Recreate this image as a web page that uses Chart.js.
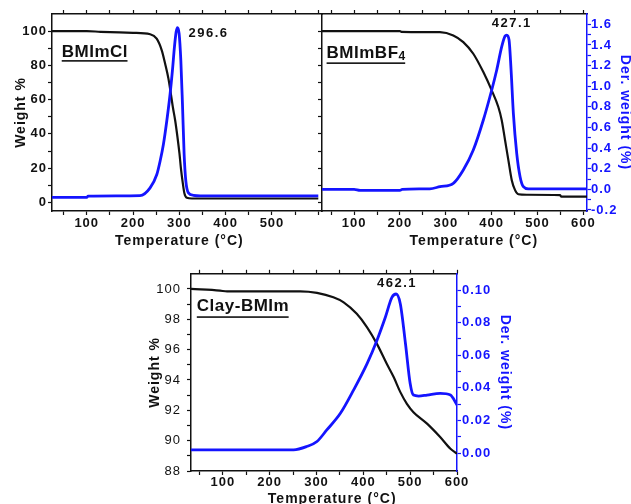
<!DOCTYPE html>
<html>
<head>
<meta charset="utf-8">
<script src="https://cdn.jsdelivr.net/npm/chart.js@4.4.1/dist/chart.umd.min.js"></script>
<style>
  html, body { margin: 0; padding: 0; background: #fff; }
  body { width: 631px; height: 504px; position: relative; overflow: hidden; }
  canvas { position: absolute; }
</style>
</head>
<body>
<canvas id="c1" width="324" height="250" style="left:0;top:0"></canvas>
<canvas id="c2" width="319" height="250" style="left:312px;top:0"></canvas>
<canvas id="c3" width="380" height="244" style="left:140px;top:260px"></canvas>
<script>
const BLACK = '#111';
const BLUE  = '#1414ff';
const FONT  = '"Liberation Sans", Arial, sans-serif';

// ── Ticks ──────────────────────────────────────────────────────────────────
const tempTicks      = [50, 100, 150, 200, 250, 300, 350, 400, 450, 500, 550, 600];
const clTempLabels   = [100, 200, 300, 400, 500];
const tempLabels     = [100, 200, 300, 400, 500, 600];
const weightTicks    = [0, 10, 20, 30, 40, 50, 60, 70, 80, 90, 100];
const weightLabels   = [0, 20, 40, 60, 80, 100];
const bf4DerTicks    = [-0.2, -0.1, 0, 0.1, 0.2, 0.3, 0.4, 0.5, 0.6, 0.7, 0.8, 0.9, 1, 1.1, 1.2, 1.3, 1.4, 1.5, 1.6];
const bf4DerLabels   = [-0.2, 0, 0.2, 0.4, 0.6, 0.8, 1, 1.2, 1.4, 1.6];
const clayWTicks     = [88, 89, 90, 91, 92, 93, 94, 95, 96, 97, 98, 99, 100];
const clayWLabels    = [88, 90, 92, 94, 96, 98, 100];
const clayDerTicks   = [0, 0.01, 0.02, 0.03, 0.04, 0.05, 0.06, 0.07, 0.08, 0.09, 0.1];
const clayDerLabels  = [0, 0.02, 0.04, 0.06, 0.08, 0.1];

// ── BMImCl ─────────────────────────────────────────────────────────────────
const clTemp    = [25, 100, 130, 200, 237, 251, 262, 269.3, 276.4, 281.6, 285.9, 290.9, 295.9, 300.2, 303.8, 307.5, 311, 316.2, 327, 600];
const clWeight  = [100, 100, 99.6, 99.0, 98.2, 95.6, 88.8, 81, 72.3, 63.5, 55.7, 48, 38.2, 28.6, 18.8, 11.1, 5.2, 2.7, 2.3, 2.3];
// derivative curve has no axis of its own in this panel: normalised to its peak
const clDerTemp = [25, 100, 103, 215, 236.8, 251.3, 258.5, 265.6, 272.9, 280, 285, 289.4, 293, 295.9, 299.5, 303.2, 306.7, 310.3, 314, 319.6, 330.4, 345, 600];
const clDer     = [-0.005, -0.005, 0.003, 0.006, 0.052, 0.131, 0.211, 0.31, 0.449, 0.607, 0.745, 0.885, 0.973, 1, 0.964, 0.805, 0.548, 0.251, 0.092, 0.022, 0.008, 0.005, 0.005];

// ── BMImBF4 ────────────────────────────────────────────────────────────────
const bf4Temp    = [30, 200, 203, 287.3, 316.4, 338.2, 360, 381.9, 400.2, 414.6, 422, 429.3, 436.5, 443.9, 451.1, 458.3, 476.6, 549, 552, 608];
const bf4Weight  = [100, 100, 99.6, 99.4, 97.5, 93.6, 86.8, 76.1, 65.4, 55.7, 48, 36.3, 24.7, 13, 7.2, 4.8, 4.5, 4.3, 3.4, 3.4];
const bf4DerTemp = [30, 100, 113, 200, 205, 265, 287.3, 316.4, 338.2, 360, 381.9, 400.2, 411.1, 422, 429.3, 433, 438, 442.4, 447.4, 454.7, 462, 469.2, 480, 608];
const bf4Der     = [0, 0, -0.01, -0.01, 0, 0.005, 0.026, 0.059, 0.188, 0.381, 0.672, 0.963, 1.157, 1.383, 1.487, 1.496, 1.448, 1.157, 0.737, 0.349, 0.123, 0.026, 0.005, 0.005];

// ── Clay-BMIm ──────────────────────────────────────────────────────────────
const clayTemp    = [32, 94, 109, 265, 301, 336, 358, 386, 408, 429, 450, 465, 479, 493, 507, 536, 564, 586, 600];
const clayWeight  = [100, 99.89, 99.84, 99.84, 99.74, 99.45, 99.12, 98.36, 97.47, 96.38, 95.07, 94.18, 93.2, 92.43, 91.88, 91.12, 90.24, 89.47, 89.14];
const clayDerTemp = [32, 251, 279, 301, 322, 351, 379, 408, 429, 447, 461, 470, 479, 490, 500, 507, 518, 536, 564, 586, 600];
const clayDer     = [0.002, 0.002, 0.004, 0.0071, 0.0142, 0.0244, 0.0386, 0.0549, 0.0691, 0.0833, 0.0955, 0.0976, 0.0915, 0.0671, 0.0427, 0.0356, 0.035, 0.0356, 0.0366, 0.0356, 0.0295];

const pts = (xs, ys) => xs.map((x, i) => ({ x, y: ys[i] }));

Chart.defaults.font.family = FONT;
Chart.defaults.color = BLACK;

// text placed at data coordinates (sample names, peak values, x titles)
const notesPlugin = {
  id: 'notes',
  beforeDraw(chart) { chart.ctx.letterSpacing = '1px'; },
  afterDraw(chart, args, opts) {
    const { ctx, chartArea } = chart;
    (opts.items || []).forEach(n => {
      const x = chart.scales.x.getPixelForValue(n.x);
      const y = n.below != null ? chartArea.bottom + n.below : chart.scales[n.axis].getPixelForValue(n.y);
      const sp = n.spacing || 0;
      ctx.save();
      ctx.letterSpacing = sp + 'px';
      ctx.font = n.font;
      ctx.fillStyle = n.color || BLACK;
      ctx.textAlign = 'left';
      ctx.textBaseline = 'alphabetic';
      let w = ctx.measureText(n.text).width;
      const x0 = n.center ? x - w / 2 : x;
      ctx.fillText(n.text, x0, y);
      if (n.sub) {
        ctx.font = n.subFont;
        ctx.fillText(n.sub, x0 + w, y + 2);
        w += ctx.measureText(n.sub).width;
      }
      if (n.underline != null) ctx.fillRect(x0, y + n.underline, w - sp, 1.6);
      ctx.restore();
    });
  }
};
Chart.register(notesPlugin);

function fixedTicks(values) {
  return scale => { scale.ticks = values.map(v => ({ value: v })); };
}
function fixSize(px) {
  return scale => { if (scale.isHorizontal()) scale.height = px; else scale.width = px; };
}
function axis(color, extra) {
  return Object.assign({
    type: 'linear',
    border: { display: true, color, width: 1.5 },
    grid: { drawOnChartArea: false, drawTicks: true, tickLength: 4, tickColor: color, tickWidth: 1.2 },
  }, extra);
}
function labelTicks(labels, fmt, font, color, padding) {
  return { autoSkip: false, maxRotation: 0, padding, color, font,
    callback: v => labels.includes(v) ? fmt(v) : '' };
}
function baseOptions() {
  return {
    responsive: false, animation: false, devicePixelRatio: 1,
    elements: { point: { radius: 0 }, line: { cubicInterpolationMode: 'monotone', fill: false } },
    plugins: { legend: { display: false }, tooltip: { enabled: false } },
  };
}

const bold13 = { size: 13, weight: 'bold' };
const titleFont = { size: 14, weight: 'bold' };
const noteFont = `bold 17px ${FONT}`;
const peakFont = `bold 13px ${FONT}`;
const xTitleFont = `bold 14px ${FONT}`;

// ── Panel 1: BMImCl ────────────────────────────────────────────────────────
const opt1 = baseOptions();
opt1.layout = { padding: { right: 2 } };
opt1.plugins.notes = { items: [
  { text: 'BMImCl', x: 46, axis: 'y', y: 84.85, font: noteFont, spacing: 0.5, underline: 3 },
  { text: '296.6', x: 319.6, axis: 'y', y: 96.5, font: peakFont, spacing: 1.5 },
  { text: 'Temperature (°C)', x: 300, below: 34, center: true, font: xTitleFont, spacing: 1 },
]};
opt1.scales = {
  x: axis(BLACK, { position: 'bottom', min: 25, max: 608,
    afterBuildTicks: fixedTicks(tempTicks), afterFit: fixSize(39),
    ticks: labelTicks(clTempLabels, v => v, bold13, BLACK, 1) }),
  xt: axis(BLACK, { position: 'top', min: 25, max: 608,
    afterBuildTicks: fixedTicks(tempTicks), afterFit: fixSize(14), ticks: { display: false } }),
  y: axis(BLACK, { position: 'left', min: -5, max: 110,
    afterBuildTicks: fixedTicks(weightTicks), afterFit: fixSize(52),
    ticks: labelTicks(weightLabels, v => v, bold13, BLACK, 1),
    title: { display: true, text: 'Weight %', color: BLACK, font: titleFont, padding: { top: 13, bottom: 0 } } }),
  d: { type: 'linear', position: 'right', display: false, min: -0.085, max: 1.08 },
};
new Chart(document.getElementById('c1'), {
  type: 'line',
  data: { datasets: [
    { data: pts(clDerTemp, clDer), yAxisID: 'd', borderColor: BLUE, borderWidth: 2.8 },
    { data: pts(clTemp, clWeight), yAxisID: 'y', borderColor: BLACK, borderWidth: 2.2 },
  ]},
  options: opt1,
});

// ── Panel 2: BMImBF4 ───────────────────────────────────────────────────────
const opt2 = baseOptions();
opt2.plugins.notes = { items: [
  { text: 'BMImBF', sub: '4', subFont: `bold 12px ${FONT}`, x: 40, axis: 'd', y: 1.27, font: noteFont, spacing: 0.5, underline: 4 },
  { text: '427.1', x: 400.2, axis: 'd', y: 1.577, font: peakFont, spacing: 1.5 },
  { text: 'Temperature (°C)', x: 361, below: 34, center: true, font: xTitleFont, spacing: 1 },
]};
opt2.scales = {
  x: axis(BLACK, { position: 'bottom', min: 30, max: 608,
    afterBuildTicks: fixedTicks(tempTicks), afterFit: fixSize(39),
    ticks: labelTicks(tempLabels, v => v, bold13, BLACK, 1) }),
  xt: axis(BLACK, { position: 'top', min: 30, max: 608,
    afterBuildTicks: fixedTicks(tempTicks), afterFit: fixSize(14), ticks: { display: false } }),
  y: axis(BLACK, { position: 'left', min: -5, max: 110,
    afterBuildTicks: fixedTicks(weightTicks), afterFit: fixSize(10), ticks: { display: false } }),
  d: axis(BLUE, { position: 'right', min: -0.21, max: 1.70,
    afterBuildTicks: fixedTicks(bf4DerTicks), afterFit: fixSize(44),
    ticks: labelTicks(bf4DerLabels, v => v.toFixed(1), bold13, BLUE, 0),
    title: { display: true, text: 'Der. weight (%)', color: BLUE, font: titleFont, padding: { top: -2, bottom: 0 } } }),
};
new Chart(document.getElementById('c2'), {
  type: 'line',
  data: { datasets: [
    { data: pts(bf4DerTemp, bf4Der), yAxisID: 'd', borderColor: BLUE, borderWidth: 2.8 },
    { data: pts(bf4Temp, bf4Weight), yAxisID: 'y', borderColor: BLACK, borderWidth: 2.2 },
  ]},
  options: opt2,
});

// ── Panel 3: Clay-BMIm ─────────────────────────────────────────────────────
const opt3 = baseOptions();
opt3.plugins.notes = { items: [
  { text: 'Clay-BMIm', x: 44.4, axis: 'y', y: 98.53, font: noteFont, spacing: 0.5, underline: 5 },
  { text: '462.1', x: 429.1, axis: 'y', y: 100.15, font: peakFont, spacing: 1.5 },
  { text: 'Temperature (°C)', x: 333.5, below: 32, center: true, font: xTitleFont, spacing: 1 },
]};
opt3.scales = {
  x: axis(BLACK, { position: 'bottom', min: 32, max: 600,
    afterBuildTicks: fixedTicks(tempTicks), afterFit: fixSize(33),
    ticks: labelTicks(tempLabels, v => v, bold13, BLACK, 0) }),
  xt: axis(BLACK, { position: 'top', min: 32, max: 600,
    afterBuildTicks: fixedTicks(tempTicks), afterFit: fixSize(13), ticks: { display: false } }),
  y: axis(BLACK, { position: 'left', min: 88, max: 101,
    afterBuildTicks: fixedTicks(clayWTicks), afterFit: fixSize(51),
    ticks: labelTicks(clayWLabels, v => v, { size: 13, weight: 'normal' }, BLACK, 6),
    title: { display: true, text: 'Weight %', color: BLACK, font: titleFont, padding: { top: 7, bottom: 0 } } }),
  d: axis(BLUE, { position: 'right', min: -0.011, max: 0.11,
    afterBuildTicks: fixedTicks(clayDerTicks), afterFit: fixSize(63),
    ticks: labelTicks(clayDerLabels, v => v.toFixed(2), bold13, BLUE, 1),
    title: { display: true, text: 'Der. weight (%)', color: BLUE, font: titleFont, padding: { top: 7, bottom: 0 } } }),
};
new Chart(document.getElementById('c3'), {
  type: 'line',
  data: { datasets: [
    { data: pts(clayDerTemp, clayDer), yAxisID: 'd', borderColor: BLUE, borderWidth: 2.8 },
    { data: pts(clayTemp, clayWeight), yAxisID: 'y', borderColor: BLACK, borderWidth: 2.2 },
  ]},
  options: opt3,
});
</script>
</body>
</html>
